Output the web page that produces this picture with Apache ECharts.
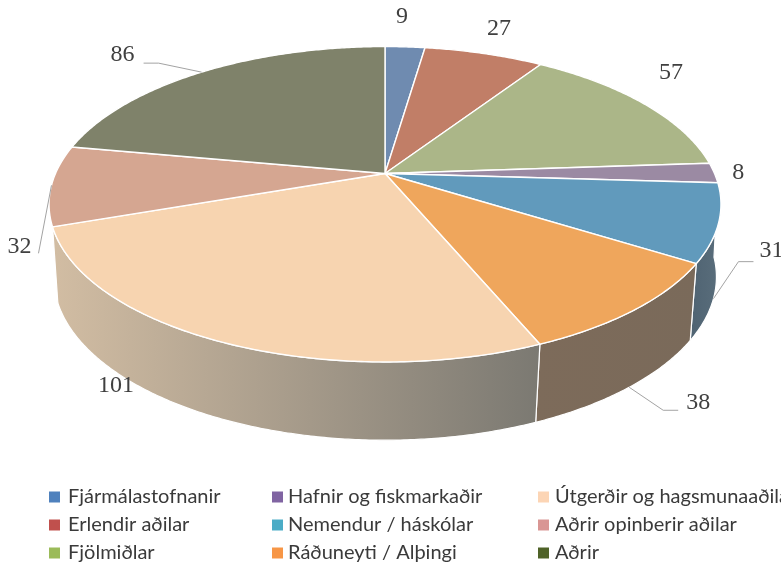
<!DOCTYPE html>
<html>
<head>
<meta charset="utf-8">
<style>
  html, body { margin: 0; padding: 0; background: #fff; }
  #main { width: 781px; height: 565px; overflow: hidden; }
</style>
<script src="https://cdn.jsdelivr.net/npm/echarts@6/dist/echarts.min.js"></script>
</head>
<body>
<div id="main"></div>
<script>
// data
const categories = [
  "Fjármálastofnanir", "Erlendir aðilar", "Fjölmiðlar",
  "Hafnir og fiskmarkaðir", "Nemendur / háskólar", "Ráðuneyti / Alþingi",
  "Útgerðir og hagsmunaaðilar", "Aðrir opinberir aðilar", "Aðrir"
];
const values = [9, 27, 57, 8, 31, 38, 101, 32, 86];

// colours
const legendColors = ["#4f81bd", "#c0504d", "#9bbb59", "#8064a2", "#4bacc6", "#f79646", "#fcd5b5", "#d99694", "#4f6228"];
const topColors = ["#6f8bb0", "#c17e67", "#abb688", "#9b8aa3", "#619abc", "#efa65c", "#f7d4b0", "#d5a691", "#7f826a"];
const wallColors = [
  "#5a6b82", "#8a5c4c", "#7e8765", "#6e6478",
  ["#4f6372", "#5a6e7c"], ["#7d6b5a", "#7a6a5a"], ["#d2bda3", "#7b7972"],
  "#a88a7a", "#62644f"
];

// label placement, relative to the rim point at the middle of each slice
const labelRing = ["top", "top", "top", "top", "base", "base", "base", "top", "top"];
const labelDx = [-3, 15, 27, 24, 58, 69, -110, -32, -79];
const labelDy = [-30, -25, -31, 0, -48, 15, -34, 61, -17];
const leaderDx = [null, null, null, null, [25, 40], [34, 49], null, [-13], [-43, -58]];
const leaderDy = [null, null, null, null, [-37, -37], [23, 23], null, [68], [-9, -9]];

// the pie seen in perspective: each ring is a circle through a projection
const topRing = { cx: 385, cy: 173.5, r: 329.5, a: 151.7, k: 0.195 };
const baseRing = { cx: 385, cy: 247.5, r: 326, a: 158, k: 0.18 };

const total = values.reduce((s, v) => s + v, 0);

function ringPoint(ring, deg) {
  const t = deg * Math.PI / 180;
  const u = Math.sin(t);
  const v = -Math.cos(t);
  const d = 1 - ring.k * v;
  return [ring.cx + ring.r * u / d, ring.cy + ring.a * v / d];
}

function arcPoints(ring, from, to) {
  const pts = [];
  const steps = Math.max(2, Math.ceil((to - from) * 2));
  for (let i = 0; i <= steps; i++) {
    pts.push(ringPoint(ring, from + (to - from) * i / steps));
  }
  return pts;
}

function wallFill(i) {
  const c = wallColors[i];
  if (typeof c === "string") return c;
  return new echarts.graphic.LinearGradient(0, 0, 1, 0, [
    { offset: 0, color: c[0] },
    { offset: 1, color: c[1] }
  ]);
}

function renderSlice(i) {
  return function (params, api) {
    const before = values.slice(0, i).reduce((s, v) => s + v, 0);
    const start = before / total * 360;
    const end = (before + api.value(0)) / total * 360;
    const mid = (start + end) / 2;
    const children = [];

    // side wall, only the part facing the viewer
    const from = Math.max(start, 80);
    const to = Math.min(end, 250.7);
    if (to > from) {
      const upper = arcPoints(topRing, from, to);
      const lower = arcPoints(baseRing, from, to).reverse();
      children.push({
        type: "polygon",
        z2: 1,
        shape: { points: upper.concat(lower) },
        style: { fill: wallFill(i), stroke: "#ffffff", lineWidth: 1.2 }
      });
    }

    // top face
    children.push({
      type: "polygon",
      z2: 2,
      shape: { points: [[topRing.cx, topRing.cy]].concat(arcPoints(topRing, start, end)) },
      style: { fill: topColors[i], stroke: "#ffffff", lineWidth: 1.4, lineJoin: "round" }
    });

    // value label and its leader line
    const anchor = ringPoint(labelRing[i] === "top" ? topRing : baseRing, mid);
    if (leaderDx[i]) {
      const pts = [anchor];
      leaderDx[i].forEach((dx, j) => pts.push([anchor[0] + dx, anchor[1] + leaderDy[i][j]]));
      children.push({
        type: "polyline",
        z2: 3,
        shape: { points: pts },
        style: { fill: null, stroke: "#a3a3a3", lineWidth: 1 }
      });
    }
    children.push({
      type: "text",
      z2: 4,
      x: anchor[0] + labelDx[i],
      y: anchor[1] + labelDy[i],
      style: {
        text: String(api.value(0)),
        fill: "#404040",
        font: '24px "Liberation Serif"',
        align: "center",
        verticalAlign: "middle"
      }
    });
    return { type: "group", children: children };
  };
}

function legendColumn(names, left, textGap) {
  return {
    orient: "vertical",
    left: left,
    top: 482,
    height: 120,
    data: names,
    icon: "rect",
    itemWidth: 11,
    itemHeight: 11,
    itemGap: 8,
    selectedMode: false,
    textStyle: { fontFamily: "Lato", fontSize: 20, lineHeight: 20, color: "#3a3a3a", padding: [0, 0, 0, textGap] }
  };
}

const chart = echarts.init(document.getElementById("main"), null, { renderer: "canvas" });
chart.setOption({
  animation: false,
  backgroundColor: "#ffffff",
  legend: [
    legendColumn(categories.slice(0, 3), 44, 3),
    legendColumn(categories.slice(3, 6), 267, 0),
    legendColumn(categories.slice(6, 9), 533, 1)
  ],
  series: categories.map((name, i) => ({
    type: "custom",
    name: name,
    coordinateSystem: "none",
    silent: true,
    itemStyle: { color: legendColors[i] },
    data: [[values[i]]],
    renderItem: renderSlice(i)
  }))
});
</script>
</body>
</html>
